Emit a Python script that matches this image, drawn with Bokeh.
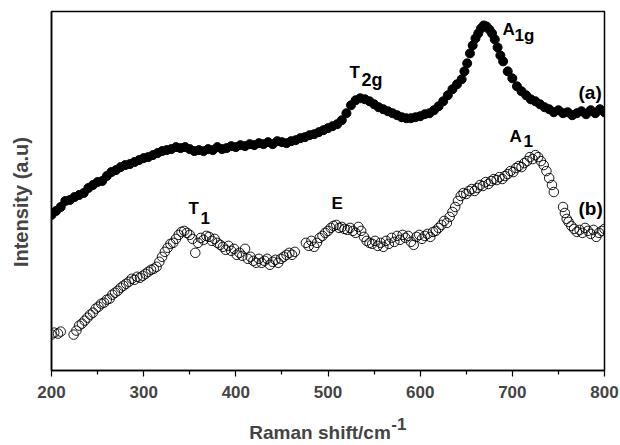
import math
from bokeh.plotting import figure
from bokeh.models import Label, FixedTicker, LinearAxis
from bokeh.embed import file_html
from bokeh.resources import INLINE

# Raman shift (cm^-1) and intensity (a.u.)
shift_a = [200, 205, 210, 215, 220, 225, 230, 235, 240, 245, 250, 255, 260, 265, 270, 275, 280, 285, 290, 295,
           300, 305, 310, 315, 320, 325, 330, 335, 340, 345, 350, 355, 360, 365, 370, 375, 380, 385, 390, 395,
           400, 405, 410, 415, 420, 425, 430, 435, 440, 445, 450, 455, 460, 465, 470, 475, 480, 485, 490, 495,
           500, 505, 510, 515, 520, 525, 530, 535, 540, 545, 550, 555, 560, 565, 570, 575, 580, 585, 590, 595,
           600, 605, 610, 615, 620, 625, 630, 635, 640, 645, 648, 651, 654, 657, 660, 663, 666, 669, 672, 675,
           678, 681, 684, 687, 690, 695, 700, 705, 710, 715, 720, 725, 730, 735, 740, 745, 750, 755, 760, 765,
           770, 775, 780, 785, 790, 795, 800]
intensity_a = [156, 160, 164, 170, 171, 174, 176, 178, 183, 186, 189, 190, 195, 199, 201, 204, 206, 207, 209, 211,
               213, 214, 216, 218, 220, 221, 222, 224, 223, 224, 222, 220, 221, 220, 222, 221, 224, 222, 223, 225,
               224, 226, 225, 227, 226, 228, 227, 229, 227, 230, 229, 228, 230, 231, 233, 234, 236, 237, 239, 241,
               243, 245, 247, 251, 258, 266, 271, 273, 272, 270, 267, 264, 262, 260, 258, 256, 254, 253, 253, 254,
               255, 257, 258, 261, 265, 270, 276, 282, 287, 292, 300, 308, 318, 326, 333, 338, 343, 346, 345, 342,
               338, 332, 324, 316, 310, 300, 293, 285, 280, 276, 272, 270, 267, 264, 262, 259, 261, 258, 259, 256,
               258, 260, 257, 261, 258, 262, 259]

shift_b = [200, 203, 207, 210, 224, 227, 230, 233, 236, 239, 242, 245, 248, 251, 254, 257, 260, 263, 266, 269,
           272, 275, 278, 281, 284, 287, 290, 293, 296, 299, 302, 305, 308, 311, 314, 317, 320, 323, 326, 329,
           332, 335, 338, 341, 344, 347, 350, 353, 356, 359, 362, 365, 368, 371, 374, 377, 380, 383, 386, 389,
           392, 395, 398, 401, 404, 407, 410, 413, 416, 419, 422, 425, 428, 431, 434, 437, 440, 443, 446, 449,
           452, 455, 458, 461, 464, 476, 479, 482, 485, 488, 491, 494, 497, 500, 503, 506, 509, 512, 515, 518,
           521, 524, 527, 530, 533, 536, 539, 542, 545, 548, 551, 554, 557, 560, 563, 566, 569, 572, 575, 578,
           581, 584, 587, 590, 593, 596, 599, 602, 605, 608, 611, 614, 617, 620, 623, 626, 629, 632, 635, 638,
           641, 644, 647, 650, 653, 656, 659, 662, 665, 668, 671, 674, 677, 680, 683, 686, 689, 692, 695, 698,
           701, 704, 707, 710, 713, 716, 719, 722, 725, 728, 731, 734, 737, 740, 743, 745, 755, 757, 759, 761,
           764, 767, 770, 773, 776, 779, 782, 785, 788, 791, 794, 797, 800]
intensity_b = [36, 38, 37, 39, 36, 40, 45, 47, 50, 53, 56, 58, 62, 64, 67, 68, 71, 72, 76, 78,
               80, 83, 85, 87, 89, 92, 91, 94, 93, 95, 97, 99, 101, 102, 104, 109, 114, 119, 123, 127,
               128, 132, 136, 139, 140, 138, 136, 132, 118, 128, 133, 131, 135, 134, 130, 132, 128, 126, 124, 121,
               125, 120, 122, 116, 118, 115, 122, 112, 114, 110, 108, 112, 108, 110, 112, 106, 109, 111, 108, 112,
               114, 116, 118, 116, 119, 128, 125, 130, 124, 128, 133, 135, 138, 140, 143, 145, 146, 143, 144, 142,
               141, 143, 140, 138, 144, 140, 134, 130, 128, 127, 130, 125, 128, 124, 130, 127, 133, 129, 135, 131,
               136, 133, 135, 129, 126, 134, 136, 132, 135, 137, 134, 139, 140, 143, 146, 150, 148, 154, 159, 164,
               170, 175, 178, 177, 180, 182, 180, 183, 186, 185, 189, 187, 190, 192, 191, 194, 192, 195, 197, 200,
               199, 203, 205, 204, 208, 210, 214, 212, 216, 214, 210, 206, 200, 193, 186, 179, 164, 158, 152, 149,
               145, 142, 139, 141, 138, 143, 140, 137, 141, 134, 138, 140, 142]

x_ticks = [200, 300, 400, 500, 600, 700, 800]
x_minor = [250, 350, 450, 550, 650, 750]

FONT = "Liberation Sans"
NB = "\u00a0"

p = figure(width=620, height=445, x_range=(200, 800), y_range=(0, 360),
           output_backend="svg", toolbar_location=None,
           min_border_left=51, min_border_right=16, min_border_top=11, min_border_bottom=74)
p.background_fill_color = "white"
p.border_fill_color = "white"
p.outline_line_color = "black"
p.outline_line_width = 1.5
p.xgrid.visible = False
p.ygrid.visible = False

ax = p.xaxis[0]
ax.ticker = FixedTicker(ticks=x_ticks, minor_ticks=x_minor)
ax.axis_line_width = 1.5
ax.major_tick_in = 0
ax.major_tick_out = 6
ax.minor_tick_in = 0
ax.minor_tick_out = 4
ax.major_tick_line_width = 1.2
ax.minor_tick_line_width = 1.2
ax.major_label_text_font = FONT
ax.major_label_text_font_style = "bold"
ax.major_label_text_font_size = "17px"
ax.major_label_standoff = 9
# superscript of the x title, pushed right to follow "cm"
ax.axis_label = NB * 30 + "-1"
ax.axis_label_text_font = FONT
ax.axis_label_text_font_style = "bold"
ax.axis_label_text_font_size = "17px"
ax.axis_label_standoff = 14

ay = p.yaxis[0]
ay.ticker = FixedTicker(ticks=[], minor_ticks=[])
ay.axis_line_width = 1.5
ay.major_tick_out = 0
ay.major_tick_in = 0
ay.minor_tick_out = 0
ay.minor_tick_in = 0
ay.major_label_standoff = 0
ay.axis_label = "Intensity (a.u)" + NB * 4
ay.axis_label_text_font = FONT
ay.axis_label_text_font_style = "bold"
ay.axis_label_text_font_size = "20px"
ay.axis_label_standoff = 20

p.scatter(shift_a, intensity_a, size=9, marker="circle", fill_color="black", line_color="black")
p.scatter(shift_b, intensity_b, size=9.5, marker="circle", fill_alpha=0, line_color="black", line_width=0.9)


def dx(px):
    return 200 + (px - 51) * 600 / 553


def dy(py):
    return 371 - py


def lab(txt, px, py, size="17px"):
    p.add_layout(Label(x=dx(px), y=dy(py), text=txt, text_font=FONT, text_font_style="bold",
                       text_font_size=size, text_align="left", text_baseline="alphabetic",
                       text_color="black"))


# peak labels
lab("A", 502, 29)
lab("1g", 514, 35)
lab("T", 349, 72)
lab("2g", 361, 80, size="18px")
lab("(a)", 578, 92, size="19px")
lab("A", 509, 136)
lab("1", 523, 141)
lab("(b)", 578, 209, size="19px")
lab("T", 188, 209)
lab("1", 200, 218)
lab("E", 331, 204)

# x axis title on a bare second axis, pulled up beside the superscript
ax2 = LinearAxis(ticker=FixedTicker(ticks=[], minor_ticks=[]), axis_line_color=None,
                 major_tick_out=0, major_tick_in=0, minor_tick_out=0, minor_tick_in=0,
                 major_label_standoff=0)
ax2.axis_label = "Raman shift/cm" + NB * 3
ax2.axis_label_text_font = FONT
ax2.axis_label_text_font_style = "bold"
ax2.axis_label_text_font_size = "19px"
ax2.axis_label_standoff = -15
p.add_layout(ax2, "below")

open("out.html", "w").write(file_html(p, INLINE))
